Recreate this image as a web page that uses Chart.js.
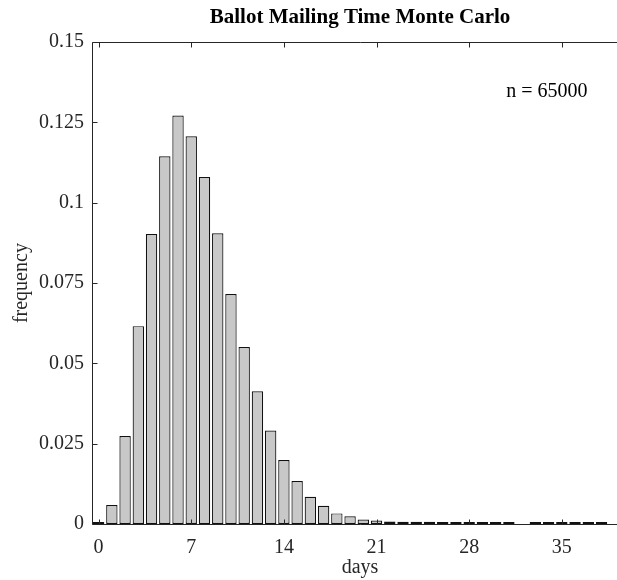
<!DOCTYPE html>
<html>
<head>
<meta charset="utf-8">
<script src="https://cdn.jsdelivr.net/npm/chart.js@4.4.1/dist/chart.umd.min.js"></script>
<style>
  html, body { margin: 0; padding: 0; background: #fff; overflow: hidden; }
  #wrap { width: 628px; height: 580px; }
</style>
</head>
<body>
<div id="wrap"><canvas id="hist" width="628" height="580"></canvas></div>
<script>
// days since mailing (bin centres)
var days = [0,1,2,3,4,5,6,7,8,9,10,11,12,13,14,15,16,17,18,19,
            20,21,22,23,24,25,26,27,28,29,30,31,32,33,34,35,36,37,38];
// frequency per bin (day 32 has no samples)
var freq = [0.0002,0.0059,0.0274,0.0616,0.0903,0.1145,0.1272,0.1207,0.1080,0.0905,
            0.0716,0.0551,0.0413,0.0291,0.0199,0.0134,0.0085,0.0057,0.0033,0.0024,
            0.0014,0.0011,0.0008,0.0007,0.0007,0.0007,0.0002,0.0002,0.0002,0.0001,
            0.0001,0.0001,null,0.0001,0.0001,0.0001,0.0001,0.0001,0.0001];
var xTicks = [0,7,14,21,28,35];
var yTicks = [0,0.025,0.05,0.075,0.1,0.125,0.15];
var yTickLabels = ['0','0.025','0.05','0.075','0.1','0.125','0.15'];
var sampleNote = 'n = 65000';
var notePos = [30.8, 0.1345];

var serif = "'Liberation Serif', 'DejaVu Serif', serif";
var ink = '#262626';

// octave-like axes (left, top, bottom) with inward ticks, plus the n= note
var boxAxes = {
    id: 'boxAxes',
    afterDatasetsDraw: function(chart) {
        var ctx = chart.ctx, a = chart.chartArea;
        var xs = chart.scales.x, ys = chart.scales.y;
        var L = Math.round(a.left) + 0.5, R = a.right;
        var T = Math.round(a.top) + 0.5, B = Math.round(a.bottom) + 0.5;
        ctx.save();
        ctx.strokeStyle = ink;
        ctx.lineWidth = 1;
        ctx.beginPath();
        ctx.moveTo(R, T); ctx.lineTo(L, T); ctx.lineTo(L, B); ctx.lineTo(R, B);
        xTicks.forEach(function(v) {
            var px = Math.round(xs.getPixelForValue(v)) + 0.5;
            ctx.moveTo(px, B); ctx.lineTo(px, B - 5);
            ctx.moveTo(px, T); ctx.lineTo(px, T + 5);
        });
        yTicks.forEach(function(v) {
            var py = Math.round(ys.getPixelForValue(v)) + 0.5;
            ctx.moveTo(L, py); ctx.lineTo(L + 5, py);
        });
        ctx.stroke();
        ctx.fillStyle = '#000';
        ctx.font = '20px ' + serif;
        ctx.textAlign = 'left';
        ctx.textBaseline = 'middle';
        ctx.fillText(sampleNote, xs.getPixelForValue(notePos[0]), ys.getPixelForValue(notePos[1]));
        ctx.restore();
    }
};

new Chart(document.getElementById('hist'), {
    type: 'bar',
    data: {
        datasets: [{
            label: 'frequency',
            data: days.map(function(d, i) { return {x: d, y: freq[i]}; }),
            backgroundColor: '#c8c8c8',
            borderColor: '#111',
            borderWidth: 1.2,
            borderSkipped: false,
            minBarLength: 2,
            barPercentage: 0.86,
            categoryPercentage: 1
        }]
    },
    options: {
        responsive: false,
        animation: false,
        devicePixelRatio: 1,
        layout: { padding: 0 },
        plugins: {
            legend: { display: false },
            tooltip: { enabled: false },
            title: {
                display: true,
                fullSize: false,
                text: 'Ballot Mailing Time Monte Carlo',
                color: '#000',
                font: { family: serif, size: 21, weight: 'bold' },
                padding: { top: 5, bottom: 12 }
            }
        },
        scales: {
            x: {
                type: 'linear',
                min: -0.5,
                max: 40,
                offset: false,
                grid: { display: false, drawTicks: false },
                border: { display: false },
                afterBuildTicks: function(s) { s.ticks = xTicks.map(function(v) { return {value: v}; }); },
                afterFit: function(s) { s.height = 56; },
                ticks: { color: ink, font: { family: serif, size: 20 }, padding: 12, maxRotation: 0, autoSkip: false },
                title: { display: true, text: 'days', color: ink, font: { family: serif, size: 20 }, padding: { top: 0, bottom: 0 } }
            },
            y: {
                min: 0,
                max: 0.15,
                grid: { display: false, drawTicks: false },
                border: { display: false },
                afterBuildTicks: function(s) { s.ticks = yTicks.map(function(v) { return {value: v}; }); },
                afterFit: function(s) { s.width = 92; },
                ticks: {
                    color: ink, font: { family: serif, size: 20 }, padding: 8, autoSkip: false,
                    callback: function(v, i) { return yTickLabels[i]; }
                },
                title: { display: true, text: 'frequency', color: ink, font: { family: serif, size: 20 }, padding: { top: 10, bottom: 0 } }
            }
        }
    },
    plugins: [boxAxes]
});
</script>
</body>
</html>
